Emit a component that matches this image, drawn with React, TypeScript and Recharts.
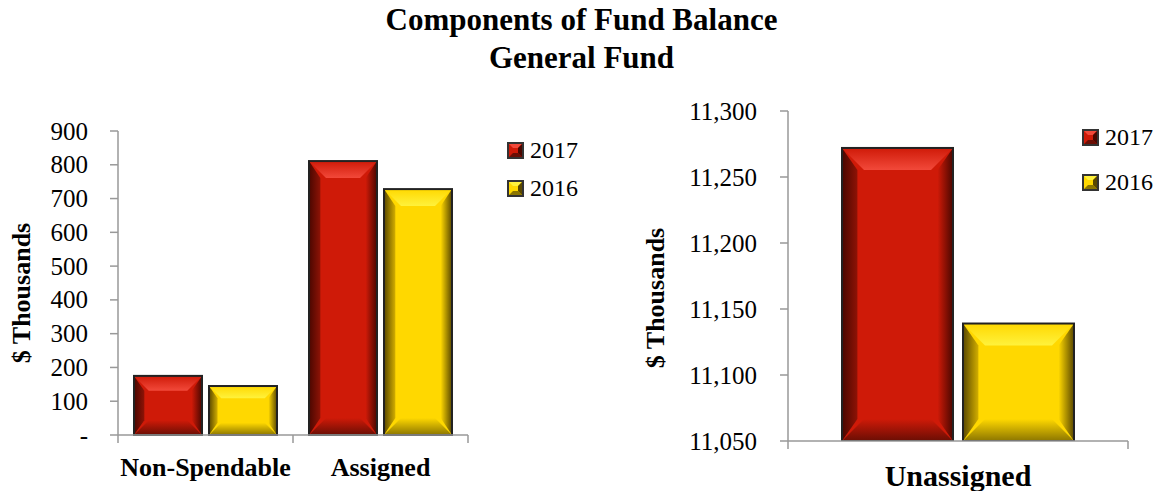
import React from 'react';
import { BarChart, Bar, XAxis, YAxis } from 'recharts';

const leftCategories = ['Non-Spendable', 'Assigned'];
const left2017 = [175, 811];
const left2016 = [145, 728];
const leftTicks = [0, 100, 200, 300, 400, 500, 600, 700, 800, 900];

const rightCategories = ['Unassigned'];
const right2017 = [11272];
const right2016 = [11139];
const rightTicks = [11050, 11100, 11150, 11200, 11250, 11300];

const seriesNames = ['2017', '2016'];
const titleLines = ['Components of Fund Balance', 'General Fund'];
const yAxisTitle = '$ Thousands';

const leftData = leftCategories.map((c, i) => ({ name: c, s2017: left2017[i], s2016: left2016[i] }));
const rightData = rightCategories.map((c, i) => ({ name: c, s2017: right2017[i], s2016: right2016[i] }));

const FONT = '"Liberation Serif", "Times New Roman", serif';

type Pal = { base: string; top: string; bottom: string; left: string; right: string; id: string };
const RED: Pal = { id: 'red', base: '#cf1a08', top: '#f2493a', bottom: '#6a0e04', left: '#8e1306', right: '#4a0700' };
const YEL: Pal = { id: 'yel', base: '#ffd800', top: '#fff23c', bottom: '#8c7600', left: '#d2ae00', right: '#5a4800' };

const Defs = ({ p }: { p: string }) => (
  <defs>
    {[RED, YEL].map((pal) => (
      <React.Fragment key={pal.id}>
        <linearGradient id={`${p}-${pal.id}-l`} x1="0" y1="0" x2="1" y2="0">
          <stop offset="0%" stopColor={pal.right} />
          <stop offset="100%" stopColor={pal.left} />
        </linearGradient>
        <linearGradient id={`${p}-${pal.id}-r`} x1="0" y1="0" x2="1" y2="0">
          <stop offset="0%" stopColor={pal.base} />
          <stop offset="100%" stopColor={pal.right} />
        </linearGradient>
        <linearGradient id={`${p}-${pal.id}-t`} x1="0" y1="0" x2="0" y2="1">
          <stop offset="0%" stopColor={pal.base} />
          <stop offset="100%" stopColor={pal.top} />
        </linearGradient>
        <linearGradient id={`${p}-${pal.id}-b`} x1="0" y1="0" x2="0" y2="1">
          <stop offset="0%" stopColor={pal.base} />
          <stop offset="100%" stopColor={pal.bottom} />
        </linearGradient>
      </React.Fragment>
    ))}
  </defs>
);

const makeBevel = (pal: Pal, p: string, maxB: number) => (props: any) => {
  const { x, y, width: w, height: h } = props;
  if (!w || !h || h <= 0) return null;
  const b = Math.min(maxB, h / 4, w / 4);
  const sb = Math.min(b * 0.7, w / 6);
  return (
    <g>
      <rect x={x} y={y} width={w} height={h} fill={pal.base} />
      <polygon points={`${x},${y} ${x + sb},${y + b} ${x + sb},${y + h - b} ${x},${y + h}`} fill={`url(#${p}-${pal.id}-l)`} />
      <polygon points={`${x + w},${y} ${x + w - sb},${y + b} ${x + w - sb},${y + h - b} ${x + w},${y + h}`} fill={`url(#${p}-${pal.id}-r)`} />
      <polygon points={`${x},${y} ${x + w},${y} ${x + w - b},${y + b} ${x + b},${y + b}`} fill={`url(#${p}-${pal.id}-t)`} />
      <polygon points={`${x},${y + h} ${x + w},${y + h} ${x + w - b},${y + h - b} ${x + b},${y + h - b}`} fill={`url(#${p}-${pal.id}-b)`} />
      <rect x={x} y={y} width={w} height={h} fill="none" stroke="#222" strokeWidth={2} />
    </g>
  );
};

const makeXTick = (band: number, fontSize: number, dy: number) => (props: any) => {
  const { x, y, payload, index } = props;
  return (
    <g>
      {index === 0 && <line x1={x - band / 2} x2={x - band / 2} y1={y} y2={y + 8} stroke="#999" strokeWidth={1.5} />}
      <line x1={x + band / 2} x2={x + band / 2} y1={y} y2={y + 8} stroke="#999" strokeWidth={1.5} />
      <text x={x} y={y + dy} textAnchor="middle" dominantBaseline="central" fontFamily={FONT} fontWeight="bold" fontSize={fontSize} fill="#000">
        {payload.value}
      </text>
    </g>
  );
};

const makeYTick = (fmt: (v: number) => string) => (props: any) => {
  const { x, y, payload } = props;
  return (
    <text x={x} y={y} textAnchor="end" dominantBaseline="central" fontFamily={FONT} fontSize={25} fill="#000">
      {fmt(payload.value)}
    </text>
  );
};

const LegendSwatch = ({ pal }: { pal: Pal }) => (
  <svg width={17} height={17} style={{ display: 'block' }}>
    <rect x={1} y={1} width={15} height={15} fill={pal.base} stroke="#333" strokeWidth={2} />
    <polygon points="2,2 15,2 11,6 6,6" fill={pal.top} />
    <polygon points="2,15 15,15 11,11 6,11" fill={pal.bottom} />
    <polygon points="15,2 15,15 11,11 11,6" fill={pal.right} />
  </svg>
);

const LegendBlock = ({ left, top, gap }: { left: number; top: number; gap: number }) => (
  <div style={{ position: 'absolute', left, top, fontFamily: FONT, fontSize: 24, lineHeight: '24px' }}>
    {seriesNames.map((n, i) => (
      <div key={n} style={{ display: 'flex', alignItems: 'center', height: 24, marginBottom: i === 0 ? gap : 0 }}>
        <LegendSwatch pal={i === 0 ? RED : YEL} />
        <span style={{ marginLeft: 6 }}>{n}</span>
      </div>
    ))}
  </div>
);

const AxisTitle = ({ x, y }: { x: number; y: number }) => (
  <text transform={`translate(${x},${y}) rotate(-90)`} textAnchor="middle" dominantBaseline="central" fontFamily={FONT} fontWeight="bold" fontSize={26} fill="#000">
    {yAxisTitle}
  </text>
);

export default function App() {
  const LW = 580;
  const lm = { top: 131, right: 112, bottom: 26, left: 58 };
  const lPlotW = LW - lm.left - 60 - lm.right;
  const RW = 583;
  const rm = { top: 111, right: 35, bottom: 15, left: 128 };
  const rPlotW = RW - rm.left - 80 - rm.right;

  return (
    <div style={{ position: 'fixed', left: 0, top: 0, width: 1163, height: 491, background: '#fff', fontFamily: FONT, overflow: 'hidden' }}>
      <div style={{ position: 'absolute', left: 0, top: 1, width: 1163, textAlign: 'center', fontWeight: 'bold', fontSize: 31, lineHeight: '38px' }}>
        {titleLines.map((t) => (
          <div key={t}>{t}</div>
        ))}
      </div>

      <div style={{ position: 'absolute', left: 0, top: 0 }}>
        <BarChart width={LW} height={491} data={leftData} margin={lm} barSize={68} barGap={7}>
          <Defs p="L" />
          <XAxis dataKey="name" height={30} axisLine={{ stroke: '#999', strokeWidth: 1.5 }} tickLine={false} tickSize={0} tickMargin={0} interval={0}
            tick={makeXTick(lPlotW / leftCategories.length, 26, 32)} />
          <YAxis width={60} domain={[0, 900]} ticks={leftTicks} interval={0} tickSize={8} tickMargin={22}
            axisLine={{ stroke: '#999', strokeWidth: 1.5 }} tickLine={{ stroke: '#999', strokeWidth: 1.5 }}
            tick={makeYTick((v: number) => (v === 0 ? '-' : String(v)))}
            label={{ content: () => <AxisTitle x={21} y={293} /> }} />
          <Bar dataKey="s2017" name={seriesNames[0]} isAnimationActive={false} shape={makeBevel(RED, 'L', 20)} />
          <Bar dataKey="s2016" name={seriesNames[1]} isAnimationActive={false} shape={makeBevel(YEL, 'L', 20)} />
        </BarChart>
      </div>
      <LegendBlock left={507} top={138} gap={14} />

      <div style={{ position: 'absolute', left: 580, top: 0 }}>
        <BarChart width={RW} height={491} data={rightData} margin={rm} barSize={111} barGap={10}>
          <Defs p="R" />
          <XAxis dataKey="name" height={35} axisLine={{ stroke: '#999', strokeWidth: 1.5 }} tickLine={false} tickSize={0} tickMargin={0} interval={0}
            tick={makeXTick(rPlotW / rightCategories.length, 30, 34)} />
          <YAxis width={80} domain={[11050, 11300]} ticks={rightTicks} interval={0} tickSize={8} tickMargin={23} allowDataOverflow
            axisLine={{ stroke: '#999', strokeWidth: 1.5 }} tickLine={{ stroke: '#999', strokeWidth: 1.5 }}
            tick={makeYTick((v: number) => v.toLocaleString('en-US'))}
            label={{ content: () => <AxisTitle x={75} y={298} /> }} />
          <Bar dataKey="s2017" name={seriesNames[0]} isAnimationActive={false} shape={makeBevel(RED, 'R', 22)} />
          <Bar dataKey="s2016" name={seriesNames[1]} isAnimationActive={false} shape={makeBevel(YEL, 'R', 22)} />
        </BarChart>
      </div>
      <LegendBlock left={1082} top={125} gap={21} />
    </div>
  );
}
